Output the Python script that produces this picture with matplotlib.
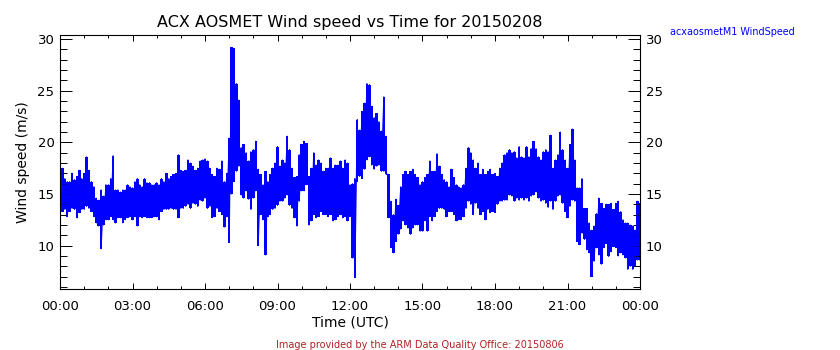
import numpy as np
import matplotlib.pyplot as plt
from matplotlib.ticker import MultipleLocator

# wind speed (m/s): max and min within each 6-minute interval, 00:00 to 24:00 UTC
wspd_hi = [17.0, 17.5, 16.5, 16.2, 16.2, 17.0, 16.4, 16.7, 17.3, 16.5,
           17.0, 18.6, 17.3, 16.2, 15.7, 14.6, 14.4, 15.4, 14.8, 15.9,
           15.9, 16.5, 18.7, 15.4, 15.4, 15.2, 15.4, 15.4, 15.9, 15.7,
           15.6, 16.2, 16.5, 15.9, 15.7, 16.5, 16.1, 16.1, 15.9, 15.9,
           16.1, 15.9, 16.5, 16.2, 17.0, 16.5, 16.7, 16.9, 17.0, 18.8,
           17.3, 17.2, 17.3, 18.3, 18.0, 17.7, 17.3, 17.5, 18.2, 18.3,
           18.4, 18.2, 17.5, 16.9, 16.7, 17.5, 17.4, 18.2, 16.2, 17.0,
           20.4, 29.2, 29.1, 25.7, 24.1, 19.5, 19.8, 19.0, 18.2, 19.1,
           19.3, 20.1, 17.4, 16.9, 15.9, 17.2, 16.2, 16.9, 17.5, 18.0,
           19.6, 17.7, 18.3, 18.0, 20.6, 19.3, 17.5, 16.6, 16.7, 18.8,
           19.8, 20.1, 19.9, 16.7, 17.5, 19.0, 17.8, 18.3, 18.0, 17.2,
           17.5, 17.5, 18.5, 17.5, 17.8, 17.8, 18.2, 17.5, 18.3, 18.0,
           15.9, 16.0, 16.5, 22.2, 21.2, 23.0, 23.8, 25.7, 25.6, 23.5,
           22.4, 22.8, 22.0, 21.1, 24.4, 20.6, 16.9, 14.3, 13.0, 14.5,
           13.9, 15.7, 16.9, 17.2, 16.9, 17.2, 17.4, 16.9, 16.6, 15.9,
           16.2, 16.6, 16.9, 18.2, 17.2, 17.2, 18.9, 17.7, 16.9, 16.4,
           16.2, 15.7, 17.4, 16.6, 15.9, 15.7, 15.6, 15.9, 17.5, 19.5,
           19.0, 18.3, 17.5, 18.0, 16.9, 17.4, 16.9, 17.2, 17.4, 16.9,
           17.0, 16.7, 17.5, 18.0, 18.8, 19.0, 19.3, 19.0, 19.1, 18.5,
           19.6, 18.6, 18.5, 19.6, 18.6, 19.4, 20.1, 19.4, 18.6, 18.3,
           19.1, 19.3, 19.1, 20.7, 17.5, 18.3, 18.8, 21.0, 19.3, 18.3,
           17.5, 19.8, 21.3, 18.3, 15.6, 15.6, 16.5, 13.6, 13.6, 12.2,
           11.5, 11.9, 13.1, 14.6, 14.1, 13.6, 14.0, 14.0, 14.1, 13.5,
           14.1, 14.3, 13.3, 12.5, 12.2, 12.2, 12.0, 11.9, 11.5, 14.3,
           14.1]
wspd_lo = [13.6, 13.3, 13.5, 12.8, 13.3, 13.6, 13.5, 12.7, 13.2, 13.5,
           13.5, 13.8, 13.6, 13.3, 12.8, 12.2, 11.9, 9.7, 12.0, 12.5,
           12.5, 12.8, 12.5, 12.2, 12.7, 12.7, 12.2, 12.5, 12.7, 12.8,
           12.5, 12.8, 11.9, 12.8, 12.7, 12.8, 12.7, 12.7, 12.7, 12.8,
           12.8, 12.5, 13.3, 13.5, 13.5, 13.5, 13.6, 13.5, 13.5, 12.7,
           13.6, 13.6, 13.8, 14.0, 13.6, 14.1, 14.0, 13.8, 14.4, 14.3,
           14.6, 13.6, 13.8, 12.7, 12.8, 13.6, 13.3, 13.0, 11.8, 12.8,
           10.3, 15.0, 16.2, 17.2, 17.7, 14.9, 14.6, 15.3, 14.5, 13.5,
           14.6, 15.3, 10.0, 13.0, 12.5, 9.1, 12.8, 13.0, 13.5, 13.6,
           13.9, 14.3, 14.3, 14.6, 14.9, 13.9, 13.6, 12.7, 11.9, 14.3,
           15.3, 15.3, 15.9, 12.0, 12.4, 13.0, 12.7, 12.8, 13.3, 13.0,
           13.0, 12.8, 13.0, 12.4, 12.5, 12.8, 13.0, 12.7, 12.8, 12.4,
           12.8, 8.8, 6.9, 16.2, 16.7, 16.5, 17.4, 18.3, 18.6, 17.8,
           17.4, 17.7, 17.8, 17.2, 17.2, 16.9, 12.7, 9.8, 9.3, 10.4,
           11.1, 11.6, 12.4, 12.0, 11.7, 11.1, 11.7, 12.0, 12.0, 11.4,
           11.4, 12.4, 11.4, 12.8, 12.4, 12.8, 13.3, 13.6, 13.6, 13.5,
           12.8, 13.3, 13.3, 13.0, 12.4, 12.5, 12.5, 12.8, 13.6, 14.3,
           14.0, 13.0, 14.1, 13.6, 13.0, 13.3, 12.5, 13.5, 13.2, 13.3,
           13.2, 14.0, 14.3, 14.3, 14.4, 14.4, 14.9, 14.8, 14.3, 14.6,
           14.4, 14.6, 14.4, 14.6, 14.3, 14.8, 14.9, 15.2, 14.6, 14.3,
           14.4, 14.1, 13.7, 14.3, 13.5, 14.3, 14.8, 14.9, 14.1, 13.3,
           12.7, 13.8, 14.4, 14.3, 10.4, 10.1, 11.2, 10.6, 9.6, 9.3,
           7.0, 8.5, 9.8, 9.1, 8.2, 9.8, 10.2, 8.95, 9.4, 9.9,
           9.8, 9.0, 9.3, 9.1, 8.8, 7.7, 8.0, 7.7, 8.0, 8.6,
           8.6]
time_labels = ['00:00', '03:00', '06:00', '09:00', '12:00', '15:00', '18:00', '21:00', '00:00']

hi = np.array(wspd_hi)
lo = np.array(wspd_lo)
t = np.linspace(0, 24, len(hi))  # hours UTC

fig = plt.figure(figsize=(8.4, 3.5), dpi=100)
ax = fig.add_axes([60 / 840, 61 / 350, 580 / 840, 254 / 350])

ax.fill_between(t, lo, hi, step='mid', color='blue', lw=0)
ax.plot(np.repeat(t, 2), np.column_stack([hi, lo]).ravel(), color='blue', lw=0.8)

ax.set_xlim(0, 24)
ax.set_ylim(5.8, 30.4)
ax.set_xticks(np.arange(0, 25, 3))
ax.set_xticklabels(time_labels)
ax.xaxis.set_minor_locator(MultipleLocator(1))
ax.yaxis.set_major_locator(MultipleLocator(5))
ax.yaxis.set_minor_locator(MultipleLocator(1))
ax.tick_params(axis='both', which='both', direction='in', top=True, right=True,
               labelright=True, labelsize=9.5, width=0.7)
ax.tick_params(axis='x', which='major', length=4, pad=8)
ax.tick_params(axis='x', which='minor', length=2.5)
ax.tick_params(axis='y', which='major', length=8.5, pad=4)
ax.tick_params(axis='y', which='minor', length=5)
for s in ax.spines.values():
    s.set_linewidth(0.8)

ax.set_xlabel('Time (UTC)', fontsize=10, labelpad=2)
ax.set_ylabel('Wind speed (m/s)', fontsize=10, labelpad=5)
fig.text(350 / 840, 1 - 22 / 350, 'ACX AOSMET Wind speed vs Time for 20150208',
         ha='center', va='center', fontsize=11.5)
fig.text(670 / 840, 1 - 32 / 350, 'acxaosmetM1 WindSpeed', color='blue',
         ha='left', va='center', fontsize=6.9)
fig.text(420 / 840, 1 - 345 / 350, 'Image provided by the ARM Data Quality Office: 20150806',
         color='#b22222', ha='center', va='center', fontsize=7)

fig.savefig('out.png', dpi=100)
